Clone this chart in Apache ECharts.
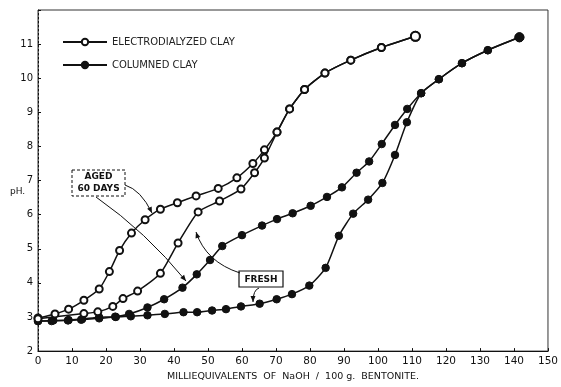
<!DOCTYPE html>
<html><head><meta charset="utf-8">
<script src="https://cdn.jsdelivr.net/npm/echarts@6/dist/echarts.min.js"></script>
<style>html,body{margin:0;padding:0;background:#fff}#c{width:561px;height:387px}</style>
</head><body><div id="c"></div>
<script>
// Electrodialyzed clay, aged 60 days (open circles)
var edAgedX = [0, 5, 9, 13.5, 18, 21, 24, 27.5, 31.5, 36, 41, 46.5, 53, 58.5, 63.2, 66.6, 70.3, 74, 78.4, 84.4, 92, 101, 111];
var edAgedY = [2.97, 3.09, 3.23, 3.49, 3.82, 4.33, 4.95, 5.46, 5.85, 6.16, 6.35, 6.55, 6.77, 7.08, 7.5, 7.9, 8.42, 9.1, 9.67, 10.15, 10.53, 10.9, 11.23];
// Electrodialyzed clay, fresh (open circles)
var edFreshX = [0, 13.5, 17.6, 22, 25, 29.3, 36, 41.2, 47.1, 53.4, 59.7, 63.7, 66.6, 70.3, 74, 78.4, 84.4, 92, 101, 111];
var edFreshY = [2.95, 3.1, 3.15, 3.31, 3.54, 3.76, 4.28, 5.17, 6.08, 6.4, 6.75, 7.23, 7.66, 8.42, 9.1, 9.67, 10.15, 10.53, 10.9, 11.23];
// Columned clay, aged 60 days (filled circles)
var colAgedX = [0, 4, 9, 13, 18, 22.7, 26.8, 32.2, 37.1, 42.5, 46.7, 50.6, 54.2, 60, 65.9, 70.3, 74.9, 80.2, 85, 89.4, 93.7, 97.4, 101.1, 105, 108.6, 112.7, 117.9, 124.7, 132.3, 141.6];
var colAgedY = [2.88, 2.88, 2.91, 2.94, 2.99, 3.01, 3.09, 3.28, 3.52, 3.86, 4.25, 4.67, 5.08, 5.4, 5.68, 5.87, 6.04, 6.26, 6.52, 6.8, 7.23, 7.56, 8.07, 8.63, 9.1, 9.56, 9.97, 10.44, 10.82, 11.2];
// Columned clay, fresh (filled circles)
var colFreshX = [0, 4.5, 8.8, 12.7, 18, 22.9, 27.3, 32.2, 37.3, 42.8, 46.8, 51.2, 55.3, 59.7, 65.2, 70.2, 74.7, 79.8, 84.6, 88.5, 92.7, 97.1, 101.3, 105, 108.5, 112.7, 117.9, 124.7, 132.3, 141.6];
var colFreshY = [2.88, 2.9, 2.9, 2.92, 2.96, 3.0, 3.02, 3.05, 3.09, 3.14, 3.14, 3.19, 3.23, 3.31, 3.39, 3.52, 3.67, 3.92, 4.44, 5.38, 6.03, 6.44, 6.93, 7.75, 8.71, 9.56, 9.97, 10.44, 10.82, 11.2];

var seriesNames = ['ELECTRODIALYZED CLAY', 'COLUMNED CLAY'];
var xTickLabels = ['0','10','20','30','40','50','60','70','80','90','100','110','120','130','140','150'];
var yTickLabels = ['2','3','4','5','6','7','8','9','10','11'];

function pairs(xs, ys){ return xs.map(function(x,i){ return [x, ys[i]]; }); }

var FONT = 'DejaVu Sans';
var ink = '#111';

function mkSeries(name, xs, ys, filled){
  var last = xs.length - 1;
  return {
    type: 'line', name: name, data: pairs(xs, ys), smooth: 0.2,
    symbol: filled ? 'circle' : 'emptyCircle',
    symbolSize: function(v, p){ return p && p.dataIndex === last ? 9 : (filled ? 7.5 : 7); },
    showAllSymbol: true,
    lineStyle: {color: ink, width: 1.5},
    itemStyle: {color: ink, borderColor: ink, borderWidth: 1},
    emphasis: {disabled: true}, z: filled ? 3 : 4
  };
}

var chart = echarts.init(document.getElementById('c'), null, {renderer: 'canvas'});

function arrow(x1,y1,cx,cy,x2,y2){
  var dx = x2-cx, dy = y2-cy, L = Math.sqrt(dx*dx+dy*dy);
  var ux = dx/L, uy = dy/L, s = 6, w = 2.5;
  var bx = x2-ux*s, by = y2-uy*s;
  return [
    {type:'bezierCurve', shape:{x1:x1,y1:y1,x2:x2,y2:y2,cpx1:cx,cpy1:cy}, style:{stroke:ink,lineWidth:1,fill:null}, z:10},
    {type:'polygon', shape:{points:[[x2,y2],[bx-uy*w,by+ux*w],[bx+uy*w,by-ux*w]]}, style:{fill:ink}, z:10}
  ];
}

var graphics = [
  {type:'rect', shape:{x:72,y:170,width:53,height:26}, style:{fill:'#fff',stroke:ink,lineWidth:1,lineDash:[3,2]}, z:9},
  {type:'text', style:{text:'AGED', x:98.5, y:177, align:'center', verticalAlign:'middle', font:'bold 9px "DejaVu Sans"', fill:ink}, z:11},
  {type:'text', style:{text:'60 DAYS', x:98.5, y:189, align:'center', verticalAlign:'middle', font:'bold 9px "DejaVu Sans"', fill:ink}, z:11},
  {type:'rect', shape:{x:239,y:271,width:44,height:16}, style:{fill:'#fff',stroke:ink,lineWidth:1.2}, z:9},
  {type:'text', style:{text:'FRESH', x:261, y:279.5, align:'center', verticalAlign:'middle', font:'bold 9px "DejaVu Sans"', fill:ink}, z:11},
  {type:'text', style:{text:'pH.', x:10, y:192, align:'left', verticalAlign:'middle', font:'9px "DejaVu Sans"', fill:ink}, z:11}
].concat(arrow(125,185,141,190,152,213))
 .concat(arrow(96,197,146,232,186,281))
 .concat(arrow(240,273,206,262,196,232))
 .concat(arrow(259,288,253,290,253,302));

chart.setOption({
  animation: false,
  backgroundColor: '#fff',
  textStyle: {fontFamily: FONT},
  grid: {left: 38, right: 8, top: 10, bottom: 29, show: true, borderColor: '#333', borderWidth: 1, backgroundColor: 'transparent'},
  legend: {
    data: seriesNames, orient: 'vertical', left: 62, top: 37, padding: 0,
    itemWidth: 44, itemHeight: 8, itemGap: 13, selectedMode: false,
    textStyle: {fontFamily: FONT, fontSize: 10, color: '#222'}
  },
  xAxis: {
    type: 'value', min: 0, max: 150, interval: 10,
    axisLine: {show: true, lineStyle: {color: ink, width: 1.2}},
    axisTick: {show: true, inside: true, length: 3, lineStyle: {color: ink}},
    splitLine: {show: false},
    axisLabel: {fontFamily: FONT, fontSize: 10.5, color: ink, margin: 5,
      formatter: function(v){ return xTickLabels[Math.round(v/10)]; }},
    name: 'MILLIEQUIVALENTS  OF  NaOH  /  100 g.  BENTONITE.', nameLocation: 'middle', nameGap: 16,
    nameTextStyle: {fontFamily: FONT, fontSize: 9.5, color: ink}
  },
  yAxis: {
    type: 'value', min: 2, max: 12, interval: 1,
    axisLine: {show: true, lineStyle: {color: ink, width: 1, type: [2,2]}},
    axisTick: {show: true, inside: true, length: 3, lineStyle: {color: ink}},
    splitLine: {show: false},
    axisLabel: {fontFamily: FONT, fontSize: 10, color: ink, margin: 5,
      formatter: function(v){ var i = Math.round(v-2); return i < yTickLabels.length ? yTickLabels[i] : ''; }}
  },
  series: [
    mkSeries(seriesNames[0], edAgedX, edAgedY, false),
    mkSeries(seriesNames[0], edFreshX, edFreshY, false),
    mkSeries(seriesNames[1], colAgedX, colAgedY, true),
    mkSeries(seriesNames[1], colFreshX, colFreshY, true)
  ],
  graphic: graphics
});
</script></body></html>
